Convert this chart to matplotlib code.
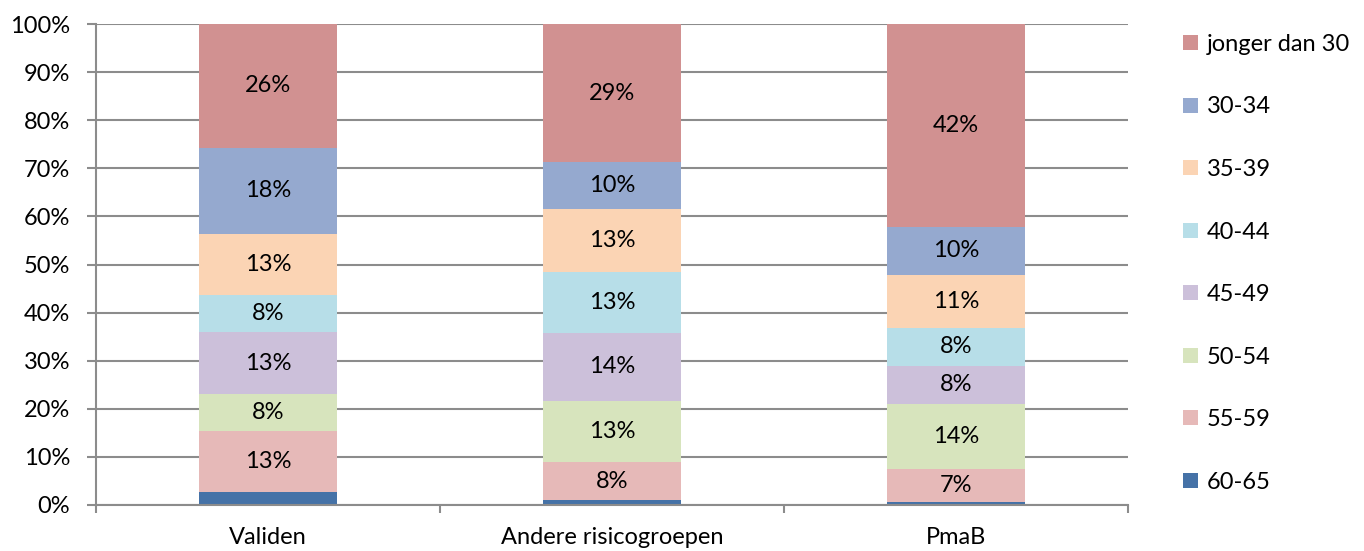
import numpy as np
import matplotlib
matplotlib.use("Agg")
from matplotlib import pyplot as plt
from matplotlib.patches import Patch

plt.rcParams['font.family'] = ['Lato', 'DejaVu Sans']

groups = ["Validen", "Andere risicogroepen", "PmaB"]
age_classes = ["60-65", "55-59", "50-54", "45-49", "40-44", "35-39", "30-34", "jonger dan 30"]
colors = ["#4572A7", "#E6B9B8", "#D7E4BD", "#CCC0DA", "#B7DEE8", "#FBD4B4", "#95A9CF", "#D19191"]

# share per age class (%), bottom to top
validen = [2.6, 12.8, 7.7, 12.8, 7.7, 12.8, 17.9, 25.7]
andere = [1.0, 7.9, 12.7, 14.2, 12.6, 13.1, 9.8, 28.7]
pmab = [0.7, 6.8, 13.6, 7.9, 7.9, 11.0, 10.0, 42.1]

shares = np.array([validen, andere, pmab]).T  # rows = age class

fs = 17

fig = plt.figure(figsize=(13.64, 5.51), dpi=100)
ax = fig.add_axes([0.0704, 0.0835, 0.7566, 0.8729])

x = np.arange(len(groups))
bottom = np.zeros(len(groups))
for i, (label, color) in enumerate(zip(age_classes, colors)):
    vals = shares[i]
    ax.bar(x, vals, width=0.4, bottom=bottom, color=color, label=label, zorder=2)
    if label != "60-65":
        for xi, v, b in zip(x, vals, bottom):
            ax.text(xi, b + v / 2, f"{round(v)}%", ha='center', va='center',
                    fontsize=fs, color='black', zorder=3)
    bottom += vals

ax.set_xlim(-0.5, 2.5)
ax.set_ylim(0, 100)
ax.set_yticks(np.arange(0, 101, 10))
ax.set_yticklabels([f"{t}%" for t in range(0, 101, 10)], fontsize=fs)
ax.yaxis.grid(True, color='#8c8c8c', linewidth=1.5, zorder=1)
ax.set_axisbelow(True)

ax.set_xticks(x)
ax.set_xticklabels(groups, fontsize=fs)
ax.set_xticks([-0.5, 0.5, 1.5, 2.5], minor=True)
ax.tick_params(axis='x', which='major', length=0, pad=16)
ax.tick_params(axis='x', which='minor', length=6, width=1.5, color='#8c8c8c', direction='out')
ax.tick_params(axis='y', length=6.5, width=1.5, color='#8c8c8c', pad=12)

for side in ['top', 'right']:
    ax.spines[side].set_visible(False)
for side in ['left', 'bottom']:
    ax.spines[side].set_color('#8c8c8c')
    ax.spines[side].set_linewidth(1.5)

handles = [Patch(facecolor=c, label=l) for l, c in zip(age_classes, colors)][::-1]
ax.legend(handles=handles, loc='upper left', bbox_to_anchor=(0.859, 0.96),
          bbox_transform=fig.transFigure, frameon=False, fontsize=fs,
          handlelength=0.6, handleheight=0.6, handletextpad=0.4,
          labelspacing=1.76, borderpad=0)

fig.savefig("out.png", dpi=100)
